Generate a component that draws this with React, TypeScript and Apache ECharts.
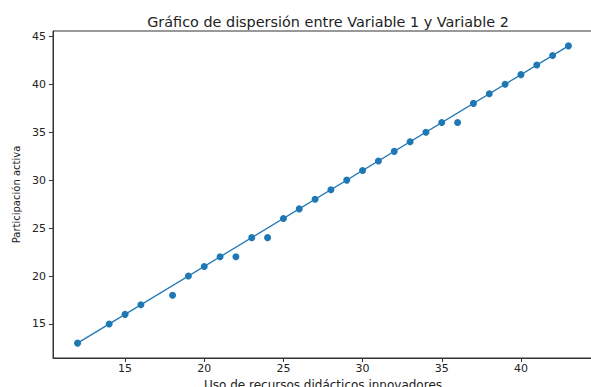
import React, { useEffect, useRef } from "react";
import * as echarts from "echarts";

const xValues = [12, 14, 15, 16, 18, 19, 20, 21, 22, 23, 24, 25, 26, 27, 28, 29, 30, 31, 32, 33, 34, 35, 36, 37, 38, 39, 40, 41, 42, 43];
const yValues = [13, 15, 16, 17, 18, 20, 21, 22, 22, 24, 24, 26, 27, 28, 29, 30, 31, 32, 33, 34, 35, 36, 36, 38, 39, 40, 41, 42, 43, 44];
const fitX = [12, 43];
const fitY = [13, 44];
const xTicks = [15, 20, 25, 30, 35, 40];
const yTicks = [15, 20, 25, 30, 35, 40, 45];

const title = "Gráfico de dispersión entre Variable 1 y Variable 2";
const xName = "Uso de recursos didácticos innovadores";
const yName = "Participación activa";

export default function App() {
  const ref = useRef<HTMLDivElement>(null);
  useEffect(() => {
    if (!ref.current) return;
    const chart = echarts.init(ref.current, null, { renderer: "svg" });
    const font = "DejaVu Sans";
    const axisCommon = {
      axisLine: { show: true, onZero: false, lineStyle: { color: "#333", width: 1 } },
      axisTick: { show: true, inside: false, length: 4, lineStyle: { color: "#333" } },
      splitLine: { show: false },
    };
    chart.setOption({
      animation: false,
      textStyle: { fontFamily: font },
      title: {
        text: title,
        left: 323,
        textAlign: "center",
        top: 10,
        textStyle: { fontFamily: font, fontSize: 14.4, fontWeight: "normal", color: "#222" },
      },
      grid: {
        left: 53,
        top: 31,
        width: 540,
        height: 327,
        outerBoundsMode: "none",
        containLabel: false,
        show: true,
        borderColor: "#333",
        borderWidth: 1,
        backgroundColor: "transparent",
      },
      xAxis: {
        type: "value",
        min: 10.45,
        max: 44.55,
        name: xName,
        nameLocation: "middle",
        nameGap: 19,
        nameTextStyle: { fontFamily: font, fontSize: 12, color: "#222" },
        ...axisCommon,
        axisTick: { ...axisCommon.axisTick, customValues: xTicks },
        axisLabel: { customValues: xTicks, fontFamily: font, fontSize: 11, color: "#222", margin: 5 },
      },
      yAxis: {
        type: "value",
        min: 11.45,
        max: 45.55,
        name: yName,
        nameLocation: "middle",
        nameGap: 30,
        nameTextStyle: { fontFamily: font, fontSize: 10, color: "#222" },
        ...axisCommon,
        axisTick: { ...axisCommon.axisTick, customValues: yTicks },
        axisLabel: { customValues: yTicks, fontFamily: font, fontSize: 11, color: "#222", margin: 7 },
      },
      series: [
        {
          type: "line",
          data: fitX.map((x, i) => [x, fitY[i]]),
          showSymbol: false,
          lineStyle: { color: "#1f77b4", width: 1.3 },
          z: 2,
        },
        {
          type: "scatter",
          data: xValues.map((x, i) => [x, yValues[i]]),
          symbolSize: 7,
          itemStyle: { color: "#1f77b4", opacity: 1 },
          z: 3,
        },
      ],
    });
    return () => chart.dispose();
  }, []);
  return <div ref={ref} style={{ width: 591, height: 387, position: "absolute", left: 0, top: 0 }} />;
}
